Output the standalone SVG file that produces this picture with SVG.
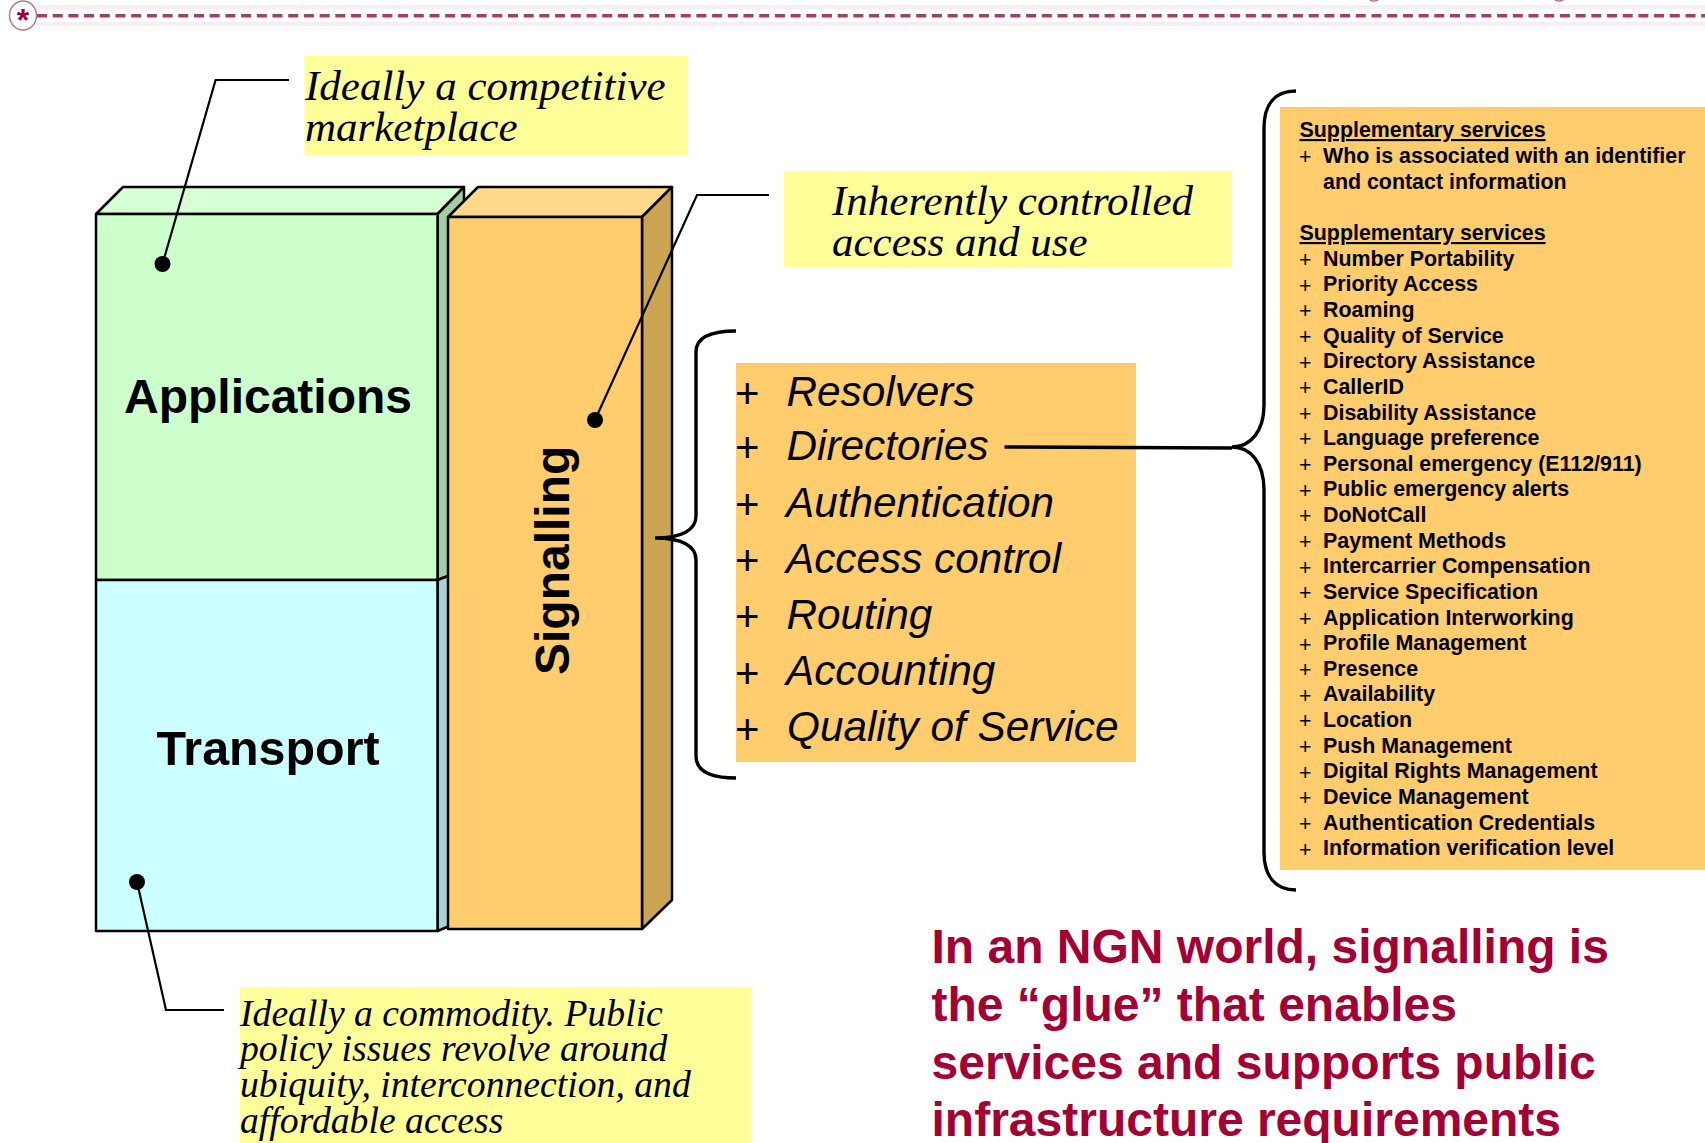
<svg xmlns="http://www.w3.org/2000/svg" width="1705" height="1143" viewBox="0 0 1705 1143">
<style>
.e{stroke:#000;stroke-width:2.5;stroke-linejoin:round}
.c{fill:none;stroke:#000;stroke-width:2.2;stroke-linejoin:miter}
.b{fill:none;stroke:#000;stroke-width:3.4;stroke-linecap:butt}
.y{fill:#ffff99}
.o{fill:#ffcc6e}
.n{font-family:"Liberation Serif",serif;font-style:italic;fill:#000}
.h{font-family:"Liberation Sans",Arial,sans-serif;font-weight:bold;font-size:48px;fill:#000}
.m{font-family:"Liberation Sans",Arial,sans-serif;font-style:italic;font-size:42.3px;fill:#000}
.p{font-family:"Liberation Sans",Arial,sans-serif;font-size:42px;fill:#000}
.s{font-family:"Liberation Sans",Arial,sans-serif;font-weight:bold;font-size:21.4px;fill:#000}
.q{font-family:"Liberation Sans",Arial,sans-serif;font-size:21.4px;fill:#000}
.t{font-family:"Liberation Sans",Arial,sans-serif;font-weight:bold;font-size:48px;fill:#a50034}
</style>
<rect width="1705" height="1143" fill="#fff"/>
<g id="header">
<line x1="36" y1="7" x2="1705" y2="7" stroke="#f8edf1" stroke-width="4"/>
<line x1="36" y1="24" x2="1705" y2="24" stroke="#f8edf1" stroke-width="4"/>
<line x1="37" y1="15.7" x2="1705" y2="15.7" stroke="#a83c68" stroke-width="3.5" stroke-dasharray="10 5.7"/>
<path d="M1370 0Q1374 2 1378 0M1555 0Q1559 2 1563 0" fill="none" stroke="#c0708f" stroke-width="1.500"/>
<ellipse cx="23" cy="15.500" rx="13.500" ry="14.500" fill="#fff" stroke="#b07a92" stroke-width="1.500"/>
<text x="23" y="30.500" text-anchor="middle" font-family="Liberation Sans,sans-serif" font-weight="bold" font-size="32" fill="#99003c">*</text>
</g>
<g id="applications">
<polygon class="e" points="96,214 123,187 464,187 437.5,214" fill="#d6ffd6"/>
<polygon class="e" points="437.5,214 464,187 464,570 437.5,580" fill="#a3cca3"/>
<rect class="e" x="96" y="214" width="341.5" height="366" fill="#ccffcc"/>
<text class="h" x="268" y="413" text-anchor="middle">Applications</text>
</g>
<g id="transport">
<polygon class="e" points="437.5,580 464,570 464,920 437.5,931" fill="#a9d3d3"/>
<rect class="e" x="96" y="580" width="341.5" height="351" fill="#ccffff"/>
<text class="h" x="268" y="765" text-anchor="middle" style="font-size:48.4px">Transport</text>
</g>
<g id="signalling">
<polygon class="e" points="448,217 478,187 672,187 642,217" fill="#ffd98c"/>
<polygon class="e" points="642,217 672,187 672,900 642,929" fill="#cca552"/>
<rect class="e" x="448" y="217" width="194" height="712" fill="#ffcc6e"/>
<text class="h" transform="translate(568.500 675) rotate(-90)">Signalling</text>
</g>
<g id="note-market">
<rect class="y" x="304.500" y="56" width="383.500" height="99"/>
<text class="n" font-size="43" x="305" y="100">Ideally a competitive</text>
<text class="n" font-size="43" x="305" y="141">marketplace</text>
</g>
<g id="note-control">
<rect class="y" x="784" y="171" width="448" height="96"/>
<text class="n" font-size="43" x="832" y="215">Inherently controlled</text>
<text class="n" font-size="43" x="832" y="256">access and use</text>
</g>
<g id="note-commodity">
<rect class="y" x="240" y="987" width="511.500" height="156"/>
<text class="n" font-size="37.700" x="240" y="1026">Ideally a commodity. Public</text>
<text class="n" font-size="37.700" x="240" y="1061">policy issues revolve around</text>
<text class="n" font-size="37.700" x="240" y="1097">ubiquity, interconnection, and</text>
<text class="n" font-size="37.700" x="240" y="1133">affordable access</text>
</g>
<g id="functions">
<rect class="o" x="736" y="363" width="400" height="399"/>
<text class="p" x="735" y="408">+</text><text class="m" x="786.500" y="406">Resolvers</text>
<text class="p" x="735" y="462">+</text><text class="m" x="786.500" y="460">Directories</text>
<text class="p" x="735" y="519">+</text><text class="m" x="786" y="517">Authentication</text>
<text class="p" x="735" y="575">+</text><text class="m" x="786" y="572.500">Access control</text>
<text class="p" x="735" y="631">+</text><text class="m" x="786.500" y="628.500">Routing</text>
<text class="p" x="735" y="688">+</text><text class="m" x="786" y="685">Accounting</text>
<text class="p" x="735" y="744">+</text><text class="m" x="787" y="741">Quality of Service</text>
</g>
<g id="services">
<rect class="o" x="1280" y="107" width="425" height="763"/>
<text class="s" x="1299.500" y="137" text-decoration="underline">Supplementary services</text>
<text class="q" x="1299" y="164">+</text><text class="s" x="1323" y="163">Who is associated with an identifier</text>
<text class="s" x="1323" y="189">and contact information</text>
<text class="s" x="1299.500" y="240" text-decoration="underline">Supplementary services</text>
<text class="q" x="1299" y="267">+</text><text class="s" x="1323" y="265.700">Number Portability</text>
<text class="q" x="1299" y="292.600">+</text><text class="s" x="1323" y="291.300">Priority Access</text>
<text class="q" x="1299" y="318.300">+</text><text class="s" x="1323" y="317">Roaming</text>
<text class="q" x="1299" y="343.900">+</text><text class="s" x="1323" y="342.600">Quality of Service</text>
<text class="q" x="1299" y="369.500">+</text><text class="s" x="1323" y="368.200">Directory Assistance</text>
<text class="q" x="1299" y="395.200">+</text><text class="s" x="1323" y="393.900">CallerID</text>
<text class="q" x="1299" y="420.800">+</text><text class="s" x="1323" y="419.500">Disability Assistance</text>
<text class="q" x="1299" y="446.400">+</text><text class="s" x="1323" y="445.100">Language preference</text>
<text class="q" x="1299" y="472">+</text><text class="s" x="1323" y="470.700">Personal emergency (E112/911)</text>
<text class="q" x="1299" y="497.700">+</text><text class="s" x="1323" y="496.400">Public emergency alerts</text>
<text class="q" x="1299" y="523.300">+</text><text class="s" x="1323" y="522">DoNotCall</text>
<text class="q" x="1299" y="548.900">+</text><text class="s" x="1323" y="547.600">Payment Methods</text>
<text class="q" x="1299" y="574.600">+</text><text class="s" x="1323" y="573.300">Intercarrier Compensation</text>
<text class="q" x="1299" y="600.200">+</text><text class="s" x="1323" y="598.900">Service Specification</text>
<text class="q" x="1299" y="625.800">+</text><text class="s" x="1323" y="624.500">Application Interworking</text>
<text class="q" x="1299" y="651.500">+</text><text class="s" x="1323" y="650.200">Profile Management</text>
<text class="q" x="1299" y="677.100">+</text><text class="s" x="1323" y="675.800">Presence</text>
<text class="q" x="1299" y="702.700">+</text><text class="s" x="1323" y="701.400">Availability</text>
<text class="q" x="1299" y="728.300">+</text><text class="s" x="1323" y="727">Location</text>
<text class="q" x="1299" y="754">+</text><text class="s" x="1323" y="752.700">Push Management</text>
<text class="q" x="1299" y="779.600">+</text><text class="s" x="1323" y="778.300">Digital Rights Management</text>
<text class="q" x="1299" y="805.200">+</text><text class="s" x="1323" y="803.900">Device Management</text>
<text class="q" x="1299" y="830.900">+</text><text class="s" x="1323" y="829.600">Authentication Credentials</text>
<text class="q" x="1299" y="856.500">+</text><text class="s" x="1323" y="855.200">Information verification level</text>
</g>
<g id="statement">
<text class="t" x="931.500" y="962.500">In an NGN world, signalling is</text>
<text class="t" x="931.500" y="1020.500">the “glue” that enables</text>
<text class="t" x="931.500" y="1078.500">services and supports public</text>
<text class="t" x="931.500" y="1135.500">infrastructure requirements</text>
</g>
<g id="connectors">
<path class="c" d="M289 80H215.600L162.500 264"/>
<ellipse cx="162.500" cy="264" rx="8" ry="8"/>
<path class="c" d="M769 195H697L595 420"/>
<ellipse cx="595" cy="420" rx="8" ry="8"/>
<path class="c" d="M224 1010H166L137 882"/>
<ellipse cx="137" cy="882" rx="8" ry="8"/>
<path class="b" d="M736 331C712 331 696 336 696 352V516C696 530 682 538 655 538C682 538 696 546 696 560V756C696 772 712 778 736 778"/>
<path class="b" d="M1296 91C1275 91 1264 104 1264 128V405C1264 432 1250 447 1232 447C1250 447 1264 462 1264 490V852C1264 876 1275 890 1296 890"/>
<path class="b" d="M1004.500 447L1232 448"/>
</g>
</svg>
